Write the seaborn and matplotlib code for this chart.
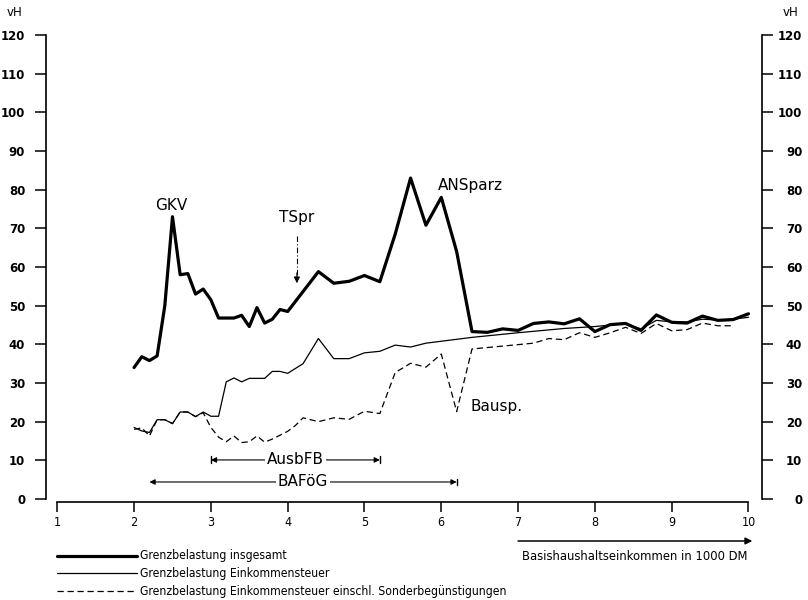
import matplotlib
matplotlib.use("Agg")
import matplotlib.pyplot as plt
from matplotlib.lines import Line2D
import seaborn as sns
import pandas as pd

# ---------------- data ----------------
x_total = [2.0, 2.1, 2.2, 2.3, 2.4, 2.5, 2.6, 2.7, 2.8, 2.9, 3.0, 3.1, 3.2, 3.3, 3.4, 3.5,
           3.6, 3.7, 3.8, 3.9, 4.0, 4.4, 4.6, 4.8, 5.0, 5.2, 5.4, 5.6, 5.8, 6.0, 6.2, 6.4,
           6.6, 6.8, 7.0, 7.2, 7.4, 7.6, 7.8, 8.0, 8.2, 8.4, 8.6, 8.8, 9.0, 9.2, 9.4, 9.6,
           9.8, 10.0]
y_total = [34, 36.8, 35.8, 37, 50, 73, 58, 58.3, 53, 54.3, 51.5, 46.8, 46.8, 46.8, 47.5, 44.6,
           49.5, 45.5, 46.5, 49, 48.5, 58.8, 55.8, 56.3, 57.8, 56.2, 68.5, 83, 70.8, 78, 64, 43.3,
           43.1, 44, 43.6, 45.4, 45.8, 45.3, 46.6, 43.3, 45.1, 45.4, 43.6, 47.6, 45.7, 45.5, 47.3, 46.2,
           46.4, 47.9]

x_income = [2.0, 2.1, 2.2, 2.3, 2.4, 2.5, 2.6, 2.7, 2.8, 2.9, 3.0, 3.1, 3.2, 3.3, 3.4, 3.5,
            3.6, 3.7, 3.8, 3.9, 4.0, 4.2, 4.4, 4.6, 4.8, 5.0, 5.2, 5.4, 5.6, 5.8, 6.0, 6.4,
            7.0, 7.6, 8.0, 8.2, 8.4, 8.6, 8.8, 9.0, 9.2, 9.4, 9.6, 9.8, 10.0]
y_income = [18.5, 17.6, 17.2, 20.5, 20.5, 19.5, 22.5, 22.5, 21.3, 22.5, 21.4, 21.4, 30.3, 31.3, 30.3, 31.2,
            31.2, 31.2, 33, 33, 32.5, 35, 41.5, 36.3, 36.3, 37.8, 38.2, 39.8, 39.3, 40.3, 40.8, 41.8,
            43.0, 44.1, 44.6, 45.0, 45.3, 44.0, 46.2, 45.8, 45.8, 46.5, 46.3, 46.5, 47.0]

x_special = [2.0, 2.1, 2.2, 2.3, 2.4, 2.5, 2.6, 2.7, 2.8, 2.9, 3.0, 3.1, 3.2, 3.3, 3.4, 3.5,
             3.6, 3.7, 3.8, 3.9, 4.0, 4.1, 4.2, 4.4, 4.6, 4.8, 5.0, 5.2, 5.4, 5.6, 5.8, 6.0,
             6.2, 6.4, 7.2, 7.4, 7.6, 7.8, 8.0, 8.2, 8.4, 8.6, 8.8, 9.0, 9.2, 9.4, 9.6, 9.8]
y_special = [18, 18.4, 16.3, 20.5, 20.5, 19.5, 22.5, 22.5, 21.3, 22.3, 18.5, 16, 14.8, 16.3, 14.6, 14.8,
             16.3, 14.7, 15.5, 16.5, 17.5, 19, 21, 20, 21, 20.6, 22.7, 22.1, 32.7, 35.1, 34.1, 37.5,
             22.6, 38.8, 40.3, 41.5, 41.2, 43.0, 41.8, 43.0, 44.4, 42.8, 45.4, 43.5, 43.8, 45.5, 44.8, 44.8]

x_ticks = [1, 2, 3, 4, 5, 6, 7, 8, 9, 10]
y_ticks = [0, 10, 20, 30, 40, 50, 60, 70, 80, 90, 100, 110, 120]

legend_labels = ["Grenzbelastung insgesamt",
                 "Grenzbelastung Einkommensteuer",
                 "Grenzbelastung Einkommensteuer einschl. Sonderbegünstigungen"]

# ---------------- style ----------------
sns.set_theme(style="white")
plt.rcParams["font.family"] = ["DejaVu Sans"]
plt.rcParams["text.color"] = "black"

W, H = 808, 600
fig = plt.figure(figsize=(W / 100, H / 100), dpi=100)
fig.patch.set_facecolor("white")

def fx(px):
    return px / W

def fy(py):
    return 1 - py / H

left_px, right_px, top_px, bot_px = 46, 762, 35, 499
ax = fig.add_axes([fx(left_px), fy(bot_px), (right_px - left_px) / W, (bot_px - top_px) / H])
ax.set_facecolor("white")

df_inc = pd.DataFrame({"x": x_income, "y": y_income})
df_spe = pd.DataFrame({"x": x_special, "y": y_special})
df_tot = pd.DataFrame({"x": x_total, "y": y_total})

sns.lineplot(data=df_spe, x="x", y="y", ax=ax, color="black", linewidth=0.9,
             linestyle=(0, (5, 3)), estimator=None, sort=False)
sns.lineplot(data=df_inc, x="x", y="y", ax=ax, color="black", linewidth=0.9,
             estimator=None, sort=False)
sns.lineplot(data=df_tot, x="x", y="y", ax=ax, color="black", linewidth=2.3,
             estimator=None, sort=False)

x0, x1 = 0.853, 10.176
ax.set_xlim(x0, x1)
ax.set_ylim(0, 120)
ax.set_xlabel("")
ax.set_ylabel("")

for s in ["top", "right"]:
    ax.spines[s].set_visible(False)
ax.spines["left"].set_color("black")
ax.spines["left"].set_linewidth(1.2)
ax.spines["bottom"].set_color("black")
ax.spines["bottom"].set_linewidth(1.2)
ax.spines["bottom"].set_position(("outward", 2))
ax.spines["bottom"].set_bounds(1, 10)

cond = dict(family="DejaVu Sans", stretch="condensed")

ax.set_xticks(x_ticks)
ax.set_xticklabels([str(v) for v in x_ticks], fontsize=9, **cond)
ax.set_yticks(y_ticks)
ax.set_yticklabels([str(v) for v in y_ticks], fontsize=8.5, fontweight="bold")
ax.tick_params(axis="x", bottom=True, direction="out", length=7, width=1.1, pad=3, colors="black")
ax.tick_params(axis="y", left=True, direction="out", length=8, width=1.1, pad=7, colors="black")
ax.grid(False)

ax2 = ax.twinx()
ax2.set_ylim(0, 120)
ax2.set_yticks(y_ticks)
ax2.set_yticklabels([str(v) for v in y_ticks], fontsize=8.5, fontweight="bold")
for s in ["top", "left", "bottom"]:
    ax2.spines[s].set_visible(False)
ax2.spines["right"].set_color("black")
ax2.spines["right"].set_linewidth(1.2)
ax2.tick_params(axis="y", right=True, direction="out", length=8, width=1.1, pad=21, colors="black")
for lab in ax2.get_yticklabels():
    lab.set_ha("right")
ax2.grid(False)

# ---------------- annotations ----------------
tfs = 11
ax.text(2.48, 76.0, "GKV", ha="center", va="center", fontsize=tfs, color="black")
ax.text(4.12, 72.7, "TSpr", ha="center", va="center", fontsize=tfs, color="black")
ax.text(6.38, 81.2, "ANSparz", ha="center", va="center", fontsize=tfs, color="black")
ax.text(6.72, 23.8, "Bausp.", ha="center", va="center", fontsize=tfs, color="black")

ax.plot([4.12, 4.12], [68.0, 57.5], color="black", lw=0.8, ls=(0, (5, 2, 1, 2)))
ax.annotate("", xy=(4.12, 55.8), xytext=(4.12, 58.5),
            arrowprops=dict(arrowstyle="-|>", color="black", lw=0.8,
                            mutation_scale=9, shrinkA=0, shrinkB=0))

def span(xa, xb, yv, label, bar_left=True, bar_right=True):
    ax.annotate("", xy=(xa, yv), xytext=(xb, yv),
                arrowprops=dict(arrowstyle="<|-|>", color="black", lw=0.8,
                                mutation_scale=8, shrinkA=0, shrinkB=0))
    if bar_left:
        ax.plot([xa, xa], [yv - 0.9, yv + 0.9], color="black", lw=1.0)
    if bar_right:
        ax.plot([xb, xb], [yv - 0.9, yv + 0.9], color="black", lw=1.0)
    ax.text((xa + xb) / 2, yv, label, ha="center", va="center", fontsize=tfs, color="black",
            bbox=dict(facecolor="white", edgecolor="none", pad=1.5))

span(3.0, 5.2, 10.1, "AusbFB")
span(2.2, 6.2, 4.4, "BAFöG", bar_left=False)

# vH labels
fig.text(fx(15), fy(13), "vH", ha="center", va="center", fontsize=8.5, color="black")
fig.text(fx(791), fy(13), "vH", ha="center", va="center", fontsize=8.5, color="black")

# bottom right arrow and axis caption
ax.annotate("", xy=(10.05, fy(541)), xytext=(7.0, fy(541)),
            xycoords=("data", "figure fraction"), textcoords=("data", "figure fraction"),
            arrowprops=dict(arrowstyle="-|>", color="black", lw=1.1,
                            mutation_scale=10, shrinkA=0, shrinkB=0),
            annotation_clip=False)
fig.text(fx(522), fy(556), "Basishaushaltseinkommen in 1000 DM", ha="left", va="center",
         fontsize=9.3, color="black", **cond)

# legend (manual)
styles = [dict(lw=2.3, ls="-"), dict(lw=0.9, ls="-"), dict(lw=0.9, ls=(0, (5, 3)))]
rows = [556, 573, 591]
for lab, st, ry in zip(legend_labels, styles, rows):
    fig.add_artist(Line2D([fx(57), fx(137)], [fy(ry), fy(ry)], color="black",
                          transform=fig.transFigure, **st))
    fig.text(fx(140), fy(ry), lab, ha="left", va="center", fontsize=8.7, color="black", **cond)

fig.savefig("out.png", dpi=100, facecolor="white")
